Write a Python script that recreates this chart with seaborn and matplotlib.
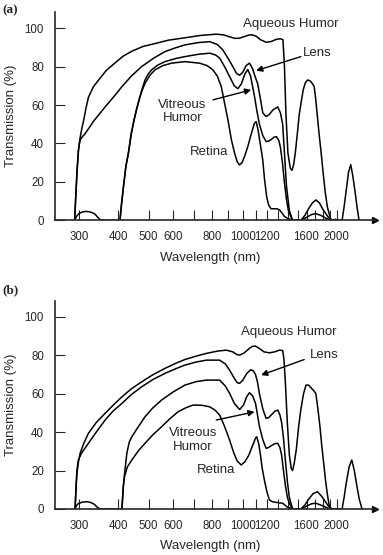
import numpy as np
import pandas as pd
import seaborn as sns
import matplotlib.pyplot as plt
from matplotlib.ticker import NullLocator

# ---- panel (a) : transmission (%) vs wavelength (nm) ----
wl_aqueous_a = [290, 292, 295, 298, 302, 306, 310, 315, 321, 333, 346, 366, 391, 415, 442, 480,
                524, 580, 653, 730, 824, 870, 908, 945, 977, 1010, 1050, 1075, 1105, 1140, 1188,
                1230, 1280, 1320, 1345, 1360, 1375, 1395, 1420, 1438, 1455, 1473, 1495, 1516,
                1540, 1562, 1585, 1612, 1635, 1656, 1693, 1712, 1731, 1755, 1782, 1810, 1835,
                1865, 1893, 1918, 1975, 2034, 2079, 2110, 2141, 2180, 2216, 2250, 2287, 2320, 2356]
tr_aqueous_a = [0, 10, 25, 36, 43, 48, 52, 58, 64, 69.5, 73, 78, 82, 85.5, 88, 90.5,
                92, 93.8, 95, 96.2, 96.9, 96.5, 95.5, 94.7, 94.8, 95.6, 96.5, 96.5, 95.8, 94, 92.7,
                93, 94.2, 94.5, 94, 80, 55, 35, 27, 26, 29, 35, 45, 55,
                62, 68, 71.5, 73, 72.8, 72, 69.6, 63, 55, 45, 35, 24, 15,
                7, 3, 0, 0.5, 0, 0, 7, 15, 25, 29, 23, 15, 7, 0]

wl_lens_a = [290, 293, 296, 299, 302, 307, 313, 335, 363, 390, 411, 440, 475, 520, 564, 610,
             653, 720, 784, 830, 864, 900, 930, 955, 977, 1000, 1025, 1051, 1075, 1100, 1117,
             1140, 1159, 1188, 1215, 1250, 1294, 1320, 1342, 1360, 1380, 1410, 1444, 1535,
             1580, 1624, 1670, 1714, 1760, 1800, 1835, 1880, 1937]
tr_lens_a = [0, 15, 28, 38, 41.8, 43.5, 45, 52, 59, 65, 69.6, 75, 80, 84.5, 87.8, 89.8,
             91.3, 92.5, 93, 91.5, 88.7, 84, 80, 76.5, 75.5, 77, 80.5, 81.8, 79, 74, 71,
             63, 56, 54, 55, 57.5, 59, 56, 50, 35, 18, 5, 0, 0,
             2.5, 6, 9, 10.6, 9, 6, 4, 1.5, 0]

wl_vitreous_a = [405, 410, 416, 423, 431, 440, 449, 458, 469, 478, 487, 498, 511, 535, 564, 610,
                 653, 720, 784, 820, 844, 875, 908, 940, 965, 990, 1015, 1038, 1060, 1091, 1110,
                 1131, 1160, 1188, 1210, 1232, 1260, 1282, 1305, 1320, 1340, 1359, 1380, 1400,
                 1441, 1535, 1600, 1660, 1714, 1780, 1850, 1904]
tr_vitreous_a = [0, 9, 18, 28, 35, 45, 52, 58, 64.4, 69, 73, 76, 78.3, 80.8, 82.6, 84.2,
                 85.2, 86.4, 87, 86, 84.4, 80, 74.8, 70, 68.5, 71, 76, 78.5, 75, 64.4, 57,
                 50, 44, 41, 41.2, 42, 43.3, 43.5, 41.5, 38, 30, 20, 11, 5,
                 0, 0, 1.5, 3, 3.5, 2.5, 1, 0]

wl_retina_a = [290, 294, 300, 307, 314, 321, 330, 337, 344, 350, 371, 405, 410, 416, 423, 431,
               440, 449, 458, 469, 478, 487, 505, 524, 555, 592, 653, 728, 770, 803, 830, 854,
               875, 897, 920, 942, 960, 977, 995, 1015, 1038, 1065, 1090, 1104, 1120, 1140,
               1159, 1175, 1193, 1210, 1232, 1282, 1310, 1332, 1360, 1389, 1441]
tr_retina_a = [0, 2, 3.6, 4.3, 4.6, 4.5, 4, 3.2, 1.5, 0.3, 0, 0, 9, 18, 28, 35,
               45, 52, 58, 64, 68, 71.3, 75.5, 78.3, 80.5, 81.8, 82.6, 81.8, 80.5, 78.3, 75, 69.6,
               61, 52.2, 42, 34.9, 30.5, 28.8, 30, 33.5, 38.3, 45, 50.5, 51.4, 47, 39,
               31.4, 21, 12.3, 8, 6, 6, 5.5, 4, 2, 1, 0]

# ---- panel (b) ----
wl_aqueous_b = [291, 293, 295, 298, 302, 310, 321, 340, 363, 385, 411, 440, 475, 515, 564, 610,
                653, 710, 765, 830, 886, 930, 955, 977, 1010, 1050, 1075, 1099, 1130, 1170, 1217,
                1265, 1310, 1342, 1355, 1370, 1389, 1410, 1430, 1444, 1462, 1484, 1510, 1535,
                1565, 1594, 1625, 1656, 1690, 1714, 1740, 1766, 1790, 1818, 1840, 1864, 1885,
                1904, 2079, 2110, 2141, 2190, 2233, 2275, 2318, 2360, 2408]
tr_aqueous_b = [0, 10, 18.6, 24, 29, 34, 39.4, 45, 49.8, 54, 58.4, 62.5, 66.2, 69.8, 73.2, 75.8,
                77.8, 79.6, 81, 82.2, 82.7, 81.8, 80.5, 80.1, 81.2, 83.6, 84.7, 84.8, 83.6, 81.8, 81.3,
                81.8, 82.7, 82.5, 78, 65, 45, 28, 21, 20, 24, 31, 43, 52,
                60, 64.5, 64.5, 63, 61.5, 60, 52, 43, 33, 23, 15, 8, 3,
                0, 0, 6, 13, 22, 25.5, 20, 12, 5, 0]

wl_lens_b = [291, 293, 295, 298, 305, 321, 340, 363, 385, 411, 440, 475, 515, 564, 610, 653,
             710, 765, 844, 880, 908, 940, 960, 977, 1000, 1030, 1060, 1080, 1099, 1115, 1131,
             1160, 1188, 1210, 1235, 1265, 1294, 1315, 1332, 1350, 1370, 1390, 1410, 1444,
             1535, 1580, 1624, 1680, 1734, 1780, 1835, 1880, 1937]
tr_lens_b = [0, 12, 20, 25.5, 29, 34.2, 40, 46.3, 51, 55, 59.5, 63.6, 67.3, 70.6, 73, 74.9,
             76.5, 77.5, 77.5, 75.5, 72.3, 68, 65.8, 65.4, 67, 70.5, 72.5, 72, 70, 66, 60,
             52, 47.2, 47.5, 49, 50.8, 51.5, 49, 45, 37, 25, 14, 6, 0,
             0, 2, 5, 8, 9, 7, 4, 1.5, 0]

wl_vitreous_b = [411, 413, 415, 420, 426, 434, 442, 460, 487, 515, 550, 600, 653, 710, 765, 844,
                 880, 908, 940, 977, 1005, 1030, 1051, 1075, 1099, 1115, 1131, 1160, 1188, 1210,
                 1235, 1265, 1294, 1315, 1332, 1350, 1370, 1390, 1410, 1441, 1535, 1600, 1660,
                 1714, 1780, 1850, 1904]
tr_vitreous_b = [0, 6, 11.6, 20, 29, 35, 37.6, 42, 48, 52.5, 56.7, 61, 64.5, 66.3, 67.1, 67.1,
                 64, 60.2, 55, 51.8, 54, 58.5, 60.5, 59, 55, 49, 43, 36, 31.6, 32,
                 33, 34, 34.2, 32, 28, 20, 12, 6, 3, 0, 0, 1.5, 2.7,
                 3, 2, 0.8, 0]

wl_retina_b = [291, 294, 298, 306, 317, 325, 335, 342, 350, 405, 411, 413, 415, 419, 428, 442,
               465, 487, 515, 550, 585, 621, 660, 694, 740, 784, 815, 844, 875, 908, 935, 960,
               989, 1015, 1046, 1075, 1100, 1109, 1125, 1140, 1155, 1173, 1195, 1217, 1245, 1273,
               1310, 1342, 1365, 1389, 1441]
tr_retina_b = [0, 1.8, 2.8, 3.5, 3.8, 3.5, 2.5, 1, 0, 0, 0, 6, 11.6, 17, 22, 25.5,
               30.5, 34.2, 38.5, 42.8, 47, 50.6, 52.8, 54.1, 54, 53.2, 51.5, 48.9, 43, 35.9, 29.5, 25,
               22.9, 24.5, 28, 33, 37, 37.6, 34, 28, 21, 15.1, 9, 4.7, 3.8, 3.5,
               3.2, 3, 2, 1, 0]

tick_values = [300, 400, 500, 600, 700, 800, 900, 1000, 1100, 1200, 1300, 1400, 1500,
               1600, 1700, 1800, 1900, 2000]
tick_labels = [300, 400, 500, 600, 800, 1000, 1200, 1600, 2000]
y_ticks = [0, 20, 40, 60, 80, 100]


def long_frame(curves):
    parts = []
    for name, wl, tr in curves:
        parts.append(pd.DataFrame({"wavelength": wl, "transmission": tr, "tissue": name}))
    return pd.concat(parts, ignore_index=True)


df_a = long_frame([("Aqueous Humor", wl_aqueous_a, tr_aqueous_a),
                   ("Lens", wl_lens_a, tr_lens_a),
                   ("Vitreous Humor", wl_vitreous_a, tr_vitreous_a),
                   ("Retina", wl_retina_a, tr_retina_a)])
df_b = long_frame([("Aqueous Humor", wl_aqueous_b, tr_aqueous_b),
                   ("Lens", wl_lens_b, tr_lens_b),
                   ("Vitreous Humor", wl_vitreous_b, tr_vitreous_b),
                   ("Retina", wl_retina_b, tr_retina_b)])

sns.set_style("ticks")
plt.rcParams['font.family'] = ['Liberation Sans', 'DejaVu Sans']

fig = plt.figure(figsize=(3.83, 5.55), dpi=100)
ax_a = fig.add_axes([0.1436, 0.6031, 0.8355, 0.3755])
ax_b = fig.add_axes([0.1436, 0.0829, 0.8355, 0.3755])

# label positions (wavelength, %) for each panel
notes = {
    "a": dict(aq=(1420, 102.2), lens=(1734, 87), lens_tail=(1535, 85.2), lens_head=(1104, 77.9),
              vit=(642, 56.6), vit_tail=(803, 62.7), vit_head=(1064, 67.9), ret=(778, 35.7)),
    "b": dict(aq=(1402, 92.2), lens=(1822, 80.1), lens_tail=(1573, 77.8), lens_head=(1145, 69.7),
              vit=(694, 35.9), vit_tail=(823, 46.3), vit_head=(1091, 50.6), ret=(823, 20.3)),
}

for ax, df, key in [(ax_a, df_a, "a"), (ax_b, df_b, "b")]:
    sns.lineplot(data=df, x="wavelength", y="transmission", units="tissue",
                 estimator=None, sort=False, color="black", lw=1.1, ax=ax, legend=False)
    ax.set_xscale("log")
    ax.set_xlim(251, 2649)
    ax.set_ylim(0, 108.5)
    ax.set_xticks(tick_values)
    ax.set_xticklabels([str(t) if t in tick_labels else "" for t in tick_values])
    ax.xaxis.set_minor_locator(NullLocator())
    ax.set_yticks(y_ticks)
    ax.tick_params(axis="both", direction="in", length=7, width=0.8, labelsize=8.3, pad=8)
    for t, v in zip(ax.xaxis.get_major_ticks(), tick_values):
        if v == 300 or v >= 1400:
            t.tick1line.set_color("0.65")
    sns.despine(ax=ax)
    ax.spines["left"].set_linewidth(1.2)
    ax.spines["bottom"].set_linewidth(1.2)
    # axis arrows
    ax.plot(1, 0, ">k", ms=5, transform=ax.get_yaxis_transform(), clip_on=False)
    ax.plot(0, 1, "^k", ms=5, transform=ax.get_xaxis_transform(), clip_on=False)

    ax.set_xlabel("Wavelength (nm)", fontsize=9.5)
    ax.set_ylabel("Transmission (%)", fontsize=9.5)
    ax.xaxis.set_label_coords(0.485, -0.15)
    ax.yaxis.set_label_coords(-0.12, 0.5)

    n = notes[key]
    ax.text(*n["aq"], "Aqueous Humor", ha="center", va="center", fontsize=9.5)
    ax.text(*n["lens"], "Lens", ha="center", va="center", fontsize=9.5)
    ax.text(*n["vit"], "Vitreous\nHumor", ha="center", va="center", fontsize=9.5,
            linespacing=1.15)
    ax.text(*n["ret"], "Retina", ha="center", va="center", fontsize=9.5)
    ax.annotate("", xy=n["lens_head"], xytext=n["lens_tail"],
                arrowprops=dict(arrowstyle="-|>", color="black", lw=1, mutation_scale=9,
                                shrinkA=0, shrinkB=0))
    ax.annotate("", xy=n["vit_head"], xytext=n["vit_tail"],
                arrowprops=dict(arrowstyle="-|>", color="black", lw=1, mutation_scale=9,
                                shrinkA=0, shrinkB=0))

fig.text(0.005, 1 - 10 / 555, "(a)", family="Liberation Serif", weight="bold",
         fontsize=9.5, va="center")
fig.text(0.005, 1 - 290 / 555, "(b)", family="Liberation Serif", weight="bold",
         fontsize=9.5, va="center")

fig.savefig("out.png", dpi=100)
